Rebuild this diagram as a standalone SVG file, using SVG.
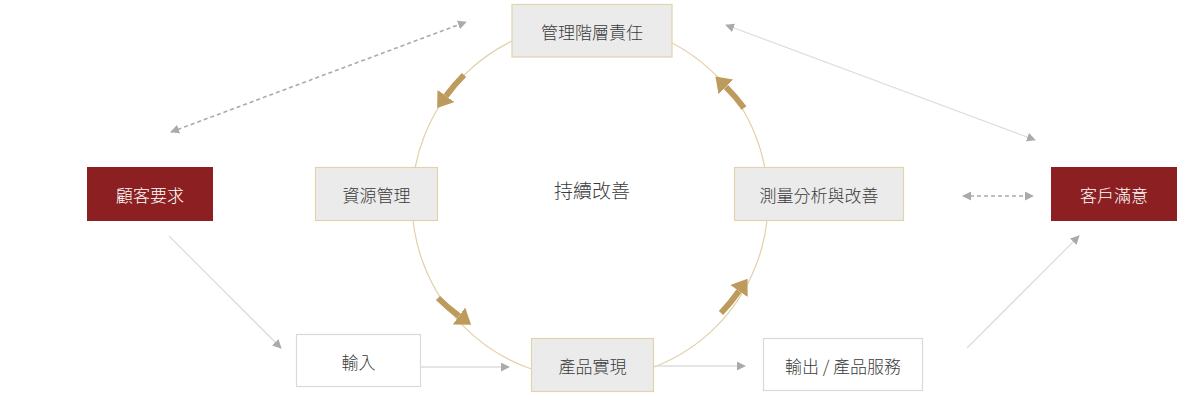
<svg xmlns="http://www.w3.org/2000/svg" width="1200" height="400" viewBox="0 0 1200 400">
<style>
.lbl{font-family:"Noto Sans CJK TC","Noto Sans CJK SC",sans-serif;font-size:17px;font-weight:300;fill:#3a3a3a;text-anchor:middle;dominant-baseline:central}
.wht{fill:#fff}
.gbox{fill:#ebebeb;stroke:#e3d3ad;stroke-width:1.2}
.wbox{fill:#fff;stroke:#d9d9d9;stroke-width:1.2}
.rbox{fill:#8b1f22}
.ln{fill:none;stroke:#dcdcdc;stroke-width:1.3}
.dash{fill:none;stroke:#aaa;stroke-width:1.6;stroke-dasharray:4 3}
.gold{fill:none;stroke:#bd9b5c;stroke-width:6}
</style>
<defs>
<marker id="ah" viewBox="0 0 10 10" refX="9" refY="5" markerWidth="9" markerHeight="9" markerUnits="userSpaceOnUse" orient="auto-start-reverse"><path d="M0,0 L10,5 L0,10 z" fill="#aaa"/></marker>
<marker id="ga" viewBox="0 0 10 10" refX="0" refY="5" markerWidth="15" markerHeight="21" markerUnits="userSpaceOnUse" orient="auto" preserveAspectRatio="none"><path d="M0,0 L10,5 L0,10 z" fill="#bd9b5c"/></marker>
</defs>
<g id="cycle">
<circle cx="590" cy="201" r="178" fill="none" stroke="#e3d0a8" stroke-width="1.2"/>
</g>
<g id="connectors">
<line class="dash" x1="171" y1="132" x2="466" y2="22" marker-start="url(#ah)" marker-end="url(#ah)"/>
<line class="ln" x1="1035" y1="140" x2="726" y2="25" marker-start="url(#ah)" marker-end="url(#ah)"/>
<line class="dash" x1="963" y1="196" x2="1033" y2="196" marker-start="url(#ah)" marker-end="url(#ah)"/>
<line class="ln" x1="169" y1="236" x2="281" y2="348" marker-end="url(#ah)"/>
<line class="ln" x1="421" y1="367" x2="509" y2="367" marker-end="url(#ah)"/>
<line class="ln" x1="655" y1="366" x2="745" y2="366" marker-end="url(#ah)"/>
<line class="ln" x1="967" y1="348" x2="1079" y2="236" marker-end="url(#ah)"/>
<path class="gold" d="M464,75 A178 178 0 0 0 446,96" marker-end="url(#ga)"/>
<path class="gold" d="M438,298 A178 178 0 0 0 459,316" marker-end="url(#ga)"/>
<path class="gold" d="M721,313 A178 178 0 0 0 739,291" marker-end="url(#ga)"/>
<path class="gold" d="M744,108 A178 178 0 0 0 726,87" marker-end="url(#ga)"/>
</g>
<g id="n-mgmt"><rect class="gbox" x="512" y="4.5" width="160" height="52.5"/><text class="lbl" x="592" y="31">管理階層責任</text></g>
<g id="n-resource"><rect class="gbox" x="315.5" y="167.5" width="122" height="53"/><text class="lbl" x="376.5" y="194">資源管理</text></g>
<g id="n-measure"><rect class="gbox" x="734.5" y="167.5" width="169" height="53"/><text class="lbl" x="819" y="194">測量分析與改善</text></g>
<g id="n-product"><rect class="gbox" x="531.5" y="338.5" width="122" height="53"/><text class="lbl" x="592.5" y="365">產品實現</text></g>
<g id="n-input"><rect class="wbox" x="296.5" y="334.5" width="124" height="52"/><text class="lbl" x="358.5" y="361">輸入</text></g>
<g id="n-output"><rect class="wbox" x="763.5" y="338.5" width="159" height="52"/><text class="lbl" x="843" y="365">輸出 / 產品服務</text></g>
<g id="n-customer-req"><rect class="rbox" x="87" y="167" width="126" height="54"/><text class="lbl wht" x="150" y="194">顧客要求</text></g>
<g id="n-customer-sat"><rect class="rbox" x="1051" y="167" width="126" height="54"/><text class="lbl wht" x="1114" y="194">客戶滿意</text></g>
<g id="n-center"><text class="lbl" x="592" y="189" style="font-size:19px">持續改善</text></g>
</svg>
